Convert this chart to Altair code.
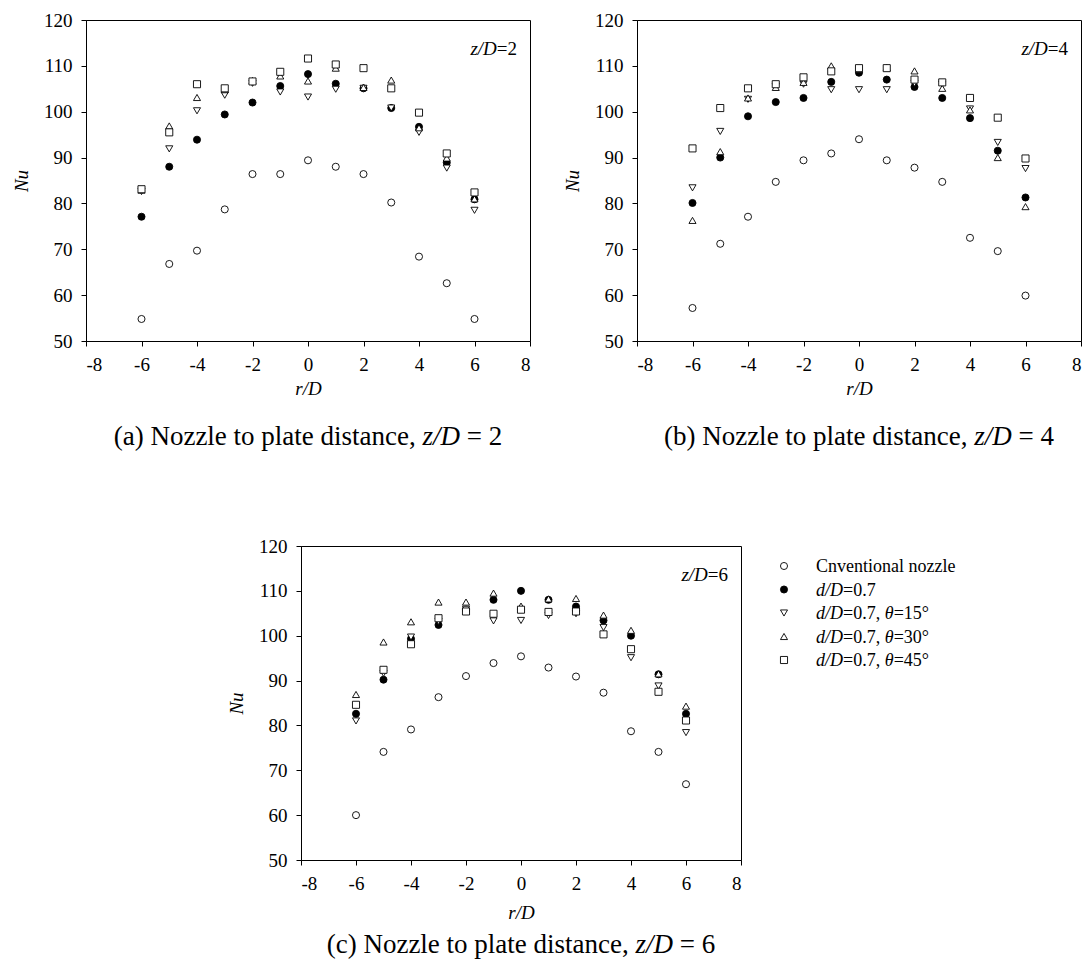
import altair as alt
import pandas as pd

FONT = "Liberation Serif"

r_vals = [-6, -5, -4, -3, -2, -1, 0, 1, 2, 3, 4, 5, 6]
series_names = ["Cnventional nozzle", "d/D=0.7", "d/D=0.7, θ=15°", "d/D=0.7, θ=30°", "d/D=0.7, θ=45°"]
series_shapes = ["circle", "circle", "triangle-down", "triangle-up", "square"]
series_fills = ["white", "black", "white", "white", "white"]

# (a) z/D = 2
a_conv = [54.8, 66.8, 69.7, 78.7, 86.4, 86.4, 89.4, 88.0, 86.4, 80.2, 68.4, 62.6, 54.8]
a_d07 = [77.1, 88.0, 93.9, 99.4, 102.0, 105.6, 108.2, 106.1, 105.1, 100.8, 96.7, 88.9, 80.9]
a_t15 = [82.6, 91.9, 100.2, 103.6, 106.2, 104.3, 103.2, 104.9, 105.1, 100.8, 95.5, 87.7, 78.5]
a_t30 = [82.9, 96.9, 103.1, 104.8, 106.8, 107.8, 106.7, 109.5, 105.3, 106.9, 96.5, 89.9, 81.0]
a_t45 = [83.1, 95.5, 106.0, 105.1, 106.6, 108.7, 111.6, 110.3, 109.5, 105.1, 99.8, 90.9, 82.4]

# (b) z/D = 4
b_conv = [57.2, 71.2, 77.1, 84.7, 89.4, 90.9, 94.0, 89.4, 87.8, 84.7, 72.5, 69.6, 59.9]
b_d07 = [80.1, 90.0, 99.0, 102.1, 103.0, 106.5, 108.5, 107.0, 105.4, 103.0, 98.6, 91.5, 81.3]
b_t15 = [83.4, 95.7, 102.7, 105.5, 106.0, 104.8, 104.8, 104.8, 106.2, 106.0, 100.6, 93.3, 87.6]
b_t30 = [76.3, 91.3, 103.0, 105.3, 106.4, 110.0, 109.2, 109.6, 108.9, 105.1, 100.4, 90.0, 79.3]
b_t45 = [92.0, 100.8, 105.1, 106.0, 107.5, 108.8, 109.5, 109.5, 107.0, 106.4, 103.0, 98.7, 89.8]

# (c) z/D = 6
c_conv = [60.0, 74.1, 79.1, 86.3, 91.0, 93.9, 95.4, 92.9, 90.9, 87.3, 78.7, 74.1, 66.9]
c_d07 = [82.6, 90.2, 99.3, 102.4, 105.8, 108.0, 110.0, 108.0, 106.5, 103.4, 100.0, 91.4, 82.6]
c_t15 = [81.0, 91.6, 99.7, 103.2, 105.9, 103.3, 103.4, 104.5, 104.9, 101.8, 95.1, 88.8, 78.4]
c_t30 = [86.9, 98.6, 103.1, 107.5, 107.5, 109.5, 106.6, 108.2, 108.3, 104.6, 101.2, 91.5, 84.3]
c_t45 = [84.6, 92.4, 98.1, 103.9, 105.4, 104.9, 105.8, 105.3, 105.4, 100.3, 97.0, 87.5, 81.1]

x_ticks = [-8, -6, -4, -2, 0, 2, 4, 6, 8]
y_ticks = [50, 60, 70, 80, 90, 100, 110, 120]

# Times / Liberation Serif advance widths (em)
W_REG = {" ": .25, "(": .333, ")": .333, ",": .25, ".": .25, "=": .564, "°": .4,
         "a": .444, "b": .5, "c": .444, "d": .5, "e": .444, "i": .278, "l": .278,
         "n": .5, "o": .5, "p": .5, "s": .389, "t": .278, "z": .444, "v": .5,
         "N": .722, "C": .667}
W_IT = {"z": .389, "/": .278, "D": .722, "d": .5, "θ": .5, "r": .389}

ONE = pd.DataFrame({"a": [0]})


def text_width(s, italic, fs):
    table = W_IT if italic else W_REG
    return sum(table.get(ch, 0.5) for ch in s) * fs


def rich_text(pieces, x, y, fs, align="left"):
    total = sum(text_width(t, it, fs) for t, it in pieces)
    if align == "center":
        cur = x - total / 2
    elif align == "right":
        cur = x - total
    else:
        cur = x
    layers = []
    for t, it in pieces:
        lead = len(t) - len(t.lstrip(" "))
        shown = t.strip(" ")
        if shown:
            kw = dict(align="left", baseline="alphabetic", font=FONT, fontSize=fs, color="black")
            if it:
                kw["fontStyle"] = "italic"
            xpos = cur + text_width(" " * lead, it, fs)
            layers.append(alt.Chart(ONE).mark_text(**kw).encode(
                x=alt.value(xpos), y=alt.value(y), text=alt.value(shown)))
        cur += text_width(t, it, fs)
    return layers


def make_df(lists):
    rows = []
    for name, vals in zip(series_names, lists):
        for r, v in zip(r_vals, vals):
            rows.append({"r": r, "Nu": v, "series": name})
    return pd.DataFrame(rows)


def panel(lists, W, H, znum, letter, cap_dy, xtitle_pad, legend=False):
    df = make_df(lists)
    x = alt.X("r:Q", scale=alt.Scale(domain=[-8, 8], nice=False),
              axis=alt.Axis(values=x_ticks, title="r/D", titlePadding=xtitle_pad,
                            labelExpr="'' + datum.value"))
    y = alt.Y("Nu:Q", scale=alt.Scale(domain=[50, 120], nice=False, zero=False),
              axis=alt.Axis(values=y_ticks, title="Nu", titlePadding=12))
    pts = alt.Chart(df).mark_point(filled=True, size=50, stroke="black", strokeWidth=0.9, opacity=1).encode(
        x=x, y=y,
        shape=alt.Shape("series:N", scale=alt.Scale(domain=series_names, range=series_shapes), legend=None),
        fill=alt.Fill("series:N", scale=alt.Scale(domain=series_names, range=series_fills), legend=None),
    )
    layers = [pts]
    layers += rich_text([("z/D", True), ("=" + str(znum), False)], W - 13, 35, 19, "right")
    layers += rich_text([("(" + letter + ") Nozzle to plate distance, ", False), ("z/D", True),
                         (" = " + str(znum), False)], W / 2, H + cap_dy, 27, "center")
    if legend:
        leg_texts = [
            [("Cnventional nozzle", False)],
            [("d/D", True), ("=0.7", False)],
            [("d/D", True), ("=0.7, ", False), ("θ", True), ("=15°", False)],
            [("d/D", True), ("=0.7, ", False), ("θ", True), ("=30°", False)],
            [("d/D", True), ("=0.7, ", False), ("θ", True), ("=45°", False)],
        ]
        for i, (name, shp, fil, pieces) in enumerate(zip(series_names, series_shapes, series_fills, leg_texts)):
            cy = 20 + i * 23.5
            layers.append(alt.Chart(ONE).mark_point(filled=True, size=50, stroke="black",
                                                    strokeWidth=0.9, opacity=1).encode(
                x=alt.value(W + 43), y=alt.value(cy), shape=alt.value(shp), fill=alt.value(fil)))
            layers += rich_text(pieces, W + 75, cy + 6, 18, "left")
    return alt.layer(*layers).properties(width=W, height=H)


pa = panel([a_conv, a_d07, a_t15, a_t30, a_t45], 444, 321, 2, "a", 104, 5)
pb = panel([b_conv, b_d07, b_t15, b_t30, b_t45], 444, 321, 4, "b", 104, 5)
pc = panel([c_conv, c_d07, c_t15, c_t30, c_t45], 440, 314, 6, "c", 93, 10, legend=True)

spacer = alt.Chart(ONE).mark_point(opacity=0).encode(
    x=alt.value(0), y=alt.value(0)).properties(
    width=140, height=10, view=alt.ViewBackground(stroke="transparent"))

top = alt.hconcat(pa, pb, spacing=32)
bottom = alt.hconcat(spacer, pc, spacing=0)

chart = alt.vconcat(top, bottom, spacing=85).properties(
    padding={"left": 4, "top": 2, "right": 0, "bottom": 0},
    background="white",
).configure_view(
    stroke="black", strokeWidth=1
).configure_axis(
    grid=False, domainColor="black", tickColor="black", labelColor="black",
    titleColor="black", labelFont=FONT, titleFont=FONT, labelFontSize=19,
    titleFontSize=19, titleFontStyle="italic", titleFontWeight="normal",
    tickSize=5, labelPadding=9, domainWidth=1, tickWidth=1,
)

chart.save("out.html", embed_options={"renderer": "svg", "actions": False})
